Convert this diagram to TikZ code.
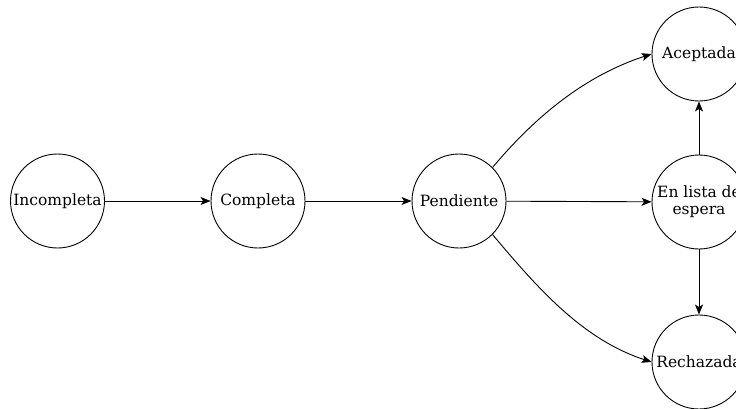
\documentclass[tikz,border=0pt]{standalone}
\usepackage{fontspec}
\setmainfont{DejaVu Serif}
\usetikzlibrary{arrows.meta}
\begin{document}
\begin{tikzpicture}[x=1pt,y=1pt,
  state/.style={circle,draw,line width=0.9pt,minimum size=94pt,inner sep=0pt,align=center,
    font=\fontsize{15.5}{17}\selectfont},
  arr/.style={line width=0.9pt,-{Stealth[length=10pt,width=8pt,inset=2.5pt]}}]
\useasboundingbox (0,0) rectangle (736,408);
\clip (0,0) rectangle (736,408);
\node[state] (inc) at (57.5,207) {Incompleta};
\node[state] (com) at (258,207) {Completa};
\node[state] (pen) at (459,207) {Pendiente};
\node[state] (acc) at (699,354) {Aceptada};
\node[state] (esp) at (699,206) {En lista de\\espera};
\node[state] (rec) at (699,46) {Rechazada};
\draw[arr] (inc) -- (com);
\draw[arr] (com) -- (pen);
\draw[arr] (pen) -- (esp);
\draw[arr] (esp) -- (acc);
\draw[arr] (esp) -- (rec);
\draw[arr] (pen.45) to[out=50,in=198,looseness=0.9] (acc.west);
\draw[arr] (pen.-45) to[out=-50,in=162,looseness=0.9] (rec.west);
\end{tikzpicture}
\end{document}
